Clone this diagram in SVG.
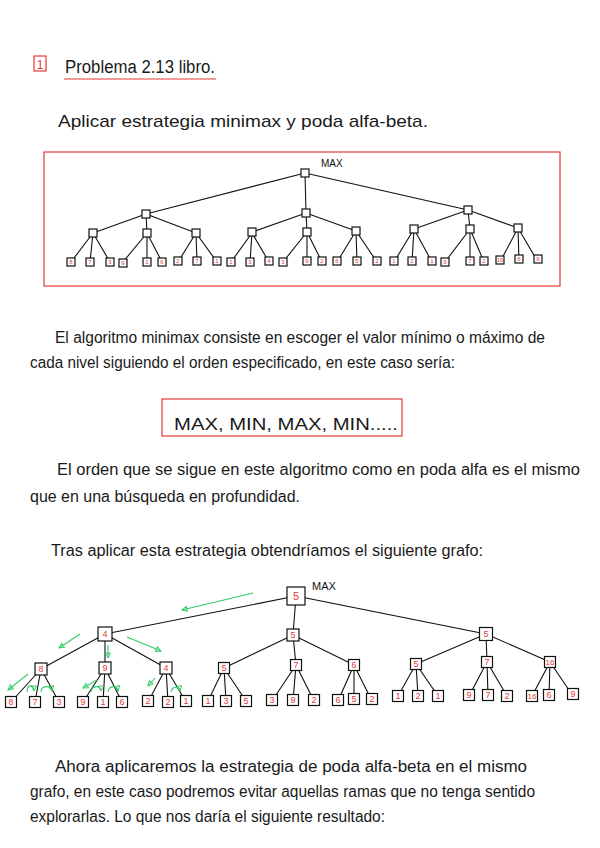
<svg xmlns="http://www.w3.org/2000/svg" width="600" height="848" viewBox="0 0 600 848">
<defs>
<style>
.t{font-family:"Liberation Sans","DejaVu Sans",sans-serif;font-size:16px;fill:#1a1a1a;}
.m{font-family:"Liberation Sans","DejaVu Sans",sans-serif;font-size:12px;fill:#111;}
.e{stroke:#111;stroke-width:1.1;fill:none;}
.n{fill:#fff;stroke:#111;stroke-width:1.2;}
.r{fill:none;stroke:#e53935;stroke-width:1.2;}
.d{font-family:"Liberation Sans","DejaVu Sans",sans-serif;fill:#e53935;text-anchor:middle;}
.s{font-size:6px;}
.b{font-size:9px;}
.g{stroke:#33cc66;stroke-width:1.1;fill:none;}
</style>
<marker id="ga" viewBox="0 0 8 8" refX="7" refY="4" markerWidth="6" markerHeight="6" orient="auto">
<path d="M1,1 L7,4 L1,7 Z" fill="none" stroke="#33cc66" stroke-width="1.2"/>
</marker>
</defs>

<!-- header -->
<g id="title">
<rect x="34" y="56" width="12" height="15" class="r"/>
<text x="40" y="69" class="d" style="font-size:12px">1</text>
<text x="65" y="73" class="t" style="font-size:18px" textLength="150" lengthAdjust="spacingAndGlyphs">Problema 2.13 libro.</text>
<line x1="64" y1="79" x2="216" y2="79" stroke="#e53935" stroke-width="1.2"/>
</g>
<text x="58" y="127" class="t" style="font-size:17px" textLength="370" lengthAdjust="spacingAndGlyphs">Aplicar estrategia minimax y poda alfa-beta.</text>

<!-- top tree -->
<rect x="44" y="152" width="516" height="134" class="r"/>
<text x="321" y="167" class="m" style="font-size:10px">MAX</text>
<g id="top-edges">
<path class="e" d="M305,173 L146,214 M305,173 L306,213 M305,173 L468,210
M146,214 L93,233 M146,214 L147,233 M146,214 L196,233
M306,213 L252,232 M306,213 L307,232 M306,213 L356,231
M468,210 L414,229 M468,210 L470,229 M468,210 L518,228
M93,233 L71,262 M93,233 L90,262 M93,233 L110,262
M147,233 L123,262 M147,233 L147,262 M147,233 L162,262
M196,233 L178,262 M196,233 L197,262 M196,233 L217,262
M252,233 L231,262 M252,233 L250,262 M252,233 L269,262
M307,232 L283,262 M307,232 L307,262 M307,232 L322,262
M356,231 L337,262 M356,231 L357,262 M356,231 L377,262
M414,229 L394,262 M414,229 L412,262 M414,229 L432,262
M470,229 L445,262 M470,229 L470,262 M470,229 L484,262
M518,228 L500,262 M518,228 L519,262 M518,228 L538,262"/>
</g>
<g id="top-nodes">
<rect class="n" x="301" y="169" width="8" height="8"/>
<rect class="n" x="142" y="210" width="8" height="8"/>
<rect class="n" x="302" y="209" width="8" height="8"/>
<rect class="n" x="464" y="206" width="8" height="8"/>
<rect class="n" x="89" y="229" width="8" height="8"/>
<rect class="n" x="143" y="229" width="8" height="8"/>
<rect class="n" x="192" y="229" width="8" height="8"/>
<rect class="n" x="248" y="228" width="8" height="8"/>
<rect class="n" x="303" y="228" width="8" height="8"/>
<rect class="n" x="352" y="227" width="8" height="8"/>
<rect class="n" x="410" y="225" width="8" height="8"/>
<rect class="n" x="466" y="225" width="8" height="8"/>
<rect class="n" x="514" y="224" width="8" height="8"/>
</g>
<g id="top-leaves">
<g transform="translate(71,262)"><rect class="n" x="-4" y="-4" width="8" height="8"/><text class="d s" y="2">8</text></g>
<g transform="translate(90,262)"><rect class="n" x="-4" y="-4" width="8" height="8"/><text class="d s" y="2">7</text></g>
<g transform="translate(110,262)"><rect class="n" x="-4" y="-4" width="8" height="8"/><text class="d s" y="2">3</text></g>
<g transform="translate(123,263)"><rect class="n" x="-4" y="-4" width="8" height="8"/><text class="d s" y="2">9</text></g>
<g transform="translate(147,262)"><rect class="n" x="-4" y="-4" width="8" height="8"/><text class="d s" y="2">1</text></g>
<g transform="translate(162,262)"><rect class="n" x="-4" y="-4" width="8" height="8"/><text class="d s" y="2">6</text></g>
<g transform="translate(178,261)"><rect class="n" x="-4" y="-4" width="8" height="8"/><text class="d s" y="2">2</text></g>
<g transform="translate(197,261)"><rect class="n" x="-4" y="-4" width="8" height="8"/><text class="d s" y="2">7</text></g>
<g transform="translate(217,261)"><rect class="n" x="-4" y="-4" width="8" height="8"/><text class="d s" y="2">1</text></g>
<g transform="translate(231,262)"><rect class="n" x="-4" y="-4" width="8" height="8"/><text class="d s" y="2">1</text></g>
<g transform="translate(250,262)"><rect class="n" x="-4" y="-4" width="8" height="8"/><text class="d s" y="2">3</text></g>
<g transform="translate(269,261)"><rect class="n" x="-4" y="-4" width="8" height="8"/><text class="d s" y="2">4</text></g>
<g transform="translate(283,262)"><rect class="n" x="-4" y="-4" width="8" height="8"/><text class="d s" y="2">3</text></g>
<g transform="translate(307,261)"><rect class="n" x="-4" y="-4" width="8" height="8"/><text class="d s" y="2">9</text></g>
<g transform="translate(322,261)"><rect class="n" x="-4" y="-4" width="8" height="8"/><text class="d s" y="2">2</text></g>
<g transform="translate(337,261)"><rect class="n" x="-4" y="-4" width="8" height="8"/><text class="d s" y="2">6</text></g>
<g transform="translate(357,261)"><rect class="n" x="-4" y="-4" width="8" height="8"/><text class="d s" y="2">5</text></g>
<g transform="translate(377,261)"><rect class="n" x="-4" y="-4" width="8" height="8"/><text class="d s" y="2">2</text></g>
<g transform="translate(394,261)"><rect class="n" x="-4" y="-4" width="8" height="8"/><text class="d s" y="2">1</text></g>
<g transform="translate(412,261)"><rect class="n" x="-4" y="-4" width="8" height="8"/><text class="d s" y="2">2</text></g>
<g transform="translate(432,261)"><rect class="n" x="-4" y="-4" width="8" height="8"/><text class="d s" y="2">1</text></g>
<g transform="translate(445,262)"><rect class="n" x="-4" y="-4" width="8" height="8"/><text class="d s" y="2">9</text></g>
<g transform="translate(470,261)"><rect class="n" x="-4" y="-4" width="8" height="8"/><text class="d s" y="2">7</text></g>
<g transform="translate(484,261)"><rect class="n" x="-4" y="-4" width="8" height="8"/><text class="d s" y="2">2</text></g>
<g transform="translate(500,260)"><rect class="n" x="-4" y="-4" width="8" height="8"/><text class="d s" y="2">16</text></g>
<g transform="translate(519,259)"><rect class="n" x="-4" y="-4" width="8" height="8"/><text class="d s" y="2">6</text></g>
<g transform="translate(538,259)"><rect class="n" x="-4" y="-4" width="8" height="8"/><text class="d s" y="2">9</text></g>
</g>

<!-- paragraph 1 -->
<text x="55" y="343" class="t" textLength="490" lengthAdjust="spacingAndGlyphs">El algoritmo minimax consiste en escoger el valor mínimo o máximo de</text>
<text x="30" y="368" class="t" textLength="425" lengthAdjust="spacingAndGlyphs">cada nivel siguiendo el orden especificado, en este caso sería:</text>
<rect x="162" y="399" width="240" height="37" class="r"/>
<text x="174" y="430" class="t" style="font-size:17px" textLength="224" lengthAdjust="spacingAndGlyphs">MAX, MIN, MAX, MIN.....</text>

<!-- paragraph 2 -->
<text x="57" y="475" class="t" textLength="523" lengthAdjust="spacingAndGlyphs">El orden que se sigue en este algoritmo como en poda alfa es el mismo</text>
<text x="30" y="502" class="t" textLength="270" lengthAdjust="spacingAndGlyphs">que en una búsqueda en profundidad.</text>
<text x="51" y="556" class="t" textLength="432" lengthAdjust="spacingAndGlyphs">Tras aplicar esta estrategia obtendríamos el siguiente grafo:</text>

<!-- bottom tree -->
<text x="312" y="590" class="m" style="font-size:11px">MAX</text>
<g id="bottom-edges">
<path class="e" d="M296,596 L105,634 M296,596 L293,635 M296,596 L486,634
M105,634 L41,669 M105,634 L105,668 M105,634 L166,668
M293,635 L224,668 M293,635 L296,665 M293,635 L354,665
M486,634 L416,664 M486,634 L487,662 M486,634 L550,662
M41,669 L11,702 M41,669 L35,702 M41,669 L59,702
M105,668 L83,702 M105,668 L103,702 M105,668 L122,702
M166,668 L148,702 M166,668 L168,702 M166,668 L186,702
M224,668 L208,701 M224,668 L226,701 M224,668 L246,701
M296,665 L272,701 M296,665 L293,701 M296,665 L314,701
M354,665 L338,701 M354,665 L354,701 M354,665 L372,701
M416,664 L398,696 M416,664 L418,696 M416,664 L438,696
M487,662 L469,696 M487,662 L488,696 M487,662 L507,696
M550,662 L532,696 M550,662 L549,696 M550,662 L573,696"/>
</g>
<g id="bottom-nodes">
<g transform="translate(296,596)"><rect class="n" x="-9" y="-9" width="18" height="18"/><text class="d" y="4" style="font-size:11px">5</text></g>
<g transform="translate(105,634)"><rect class="n" x="-7" y="-7" width="14" height="14"/><text class="d b" y="3">4</text></g>
<g transform="translate(293,635)"><rect class="n" x="-6" y="-6" width="12" height="12"/><text class="d b" y="3">5</text></g>
<g transform="translate(486,634)"><rect class="n" x="-6.5" y="-6.5" width="13" height="13"/><text class="d b" y="3">5</text></g>
<g transform="translate(41,669)"><rect class="n" x="-6" y="-6" width="12" height="12"/><text class="d b" y="3">8</text></g>
<g transform="translate(105,668)"><rect class="n" x="-6" y="-6" width="12" height="12"/><text class="d b" y="3">9</text></g>
<g transform="translate(166,668)"><rect class="n" x="-6" y="-6" width="12" height="12"/><text class="d b" y="3">4</text></g>
<g transform="translate(224,668)"><rect class="n" x="-5.5" y="-5.5" width="11" height="11"/><text class="d b" y="3">5</text></g>
<g transform="translate(296,665)"><rect class="n" x="-5.5" y="-5.5" width="11" height="11"/><text class="d b" y="3">7</text></g>
<g transform="translate(354,665)"><rect class="n" x="-5.5" y="-5.5" width="11" height="11"/><text class="d b" y="3">6</text></g>
<g transform="translate(416,664)"><rect class="n" x="-5.5" y="-5.5" width="11" height="11"/><text class="d b" y="3">5</text></g>
<g transform="translate(487,662)"><rect class="n" x="-5.5" y="-5.5" width="11" height="11"/><text class="d b" y="3">7</text></g>
<g transform="translate(550,662)"><rect class="n" x="-5.5" y="-5.5" width="11" height="11"/><text class="d b" y="3" style="font-size:8px">16</text></g>
</g>
<g id="bottom-leaves">
<g transform="translate(11,702)"><rect class="n" x="-5.5" y="-5.5" width="11" height="11"/><text class="d b" y="3">8</text></g>
<g transform="translate(35,702)"><rect class="n" x="-5.5" y="-5.5" width="11" height="11"/><text class="d b" y="3">7</text></g>
<g transform="translate(59,702)"><rect class="n" x="-5.5" y="-5.5" width="11" height="11"/><text class="d b" y="3">3</text></g>
<g transform="translate(83,702)"><rect class="n" x="-5.5" y="-5.5" width="11" height="11"/><text class="d b" y="3">9</text></g>
<g transform="translate(103,702)"><rect class="n" x="-5.5" y="-5.5" width="11" height="11"/><text class="d b" y="3">1</text></g>
<g transform="translate(122,702)"><rect class="n" x="-5.5" y="-5.5" width="11" height="11"/><text class="d b" y="3">6</text></g>
<g transform="translate(148,701)"><rect class="n" x="-5.5" y="-5.5" width="11" height="11"/><text class="d b" y="3">2</text></g>
<g transform="translate(168,702)"><rect class="n" x="-5.5" y="-5.5" width="11" height="11"/><text class="d b" y="3">2</text></g>
<g transform="translate(186,701)"><rect class="n" x="-5.5" y="-5.5" width="11" height="11"/><text class="d b" y="3">1</text></g>
<g transform="translate(208,701)"><rect class="n" x="-5.5" y="-5.5" width="11" height="11"/><text class="d b" y="3">1</text></g>
<g transform="translate(226,701)"><rect class="n" x="-5.5" y="-5.5" width="11" height="11"/><text class="d b" y="3">3</text></g>
<g transform="translate(246,701)"><rect class="n" x="-5.5" y="-5.5" width="11" height="11"/><text class="d b" y="3">5</text></g>
<g transform="translate(272,700)"><rect class="n" x="-5.5" y="-5.5" width="11" height="11"/><text class="d b" y="3">3</text></g>
<g transform="translate(293,700)"><rect class="n" x="-5.5" y="-5.5" width="11" height="11"/><text class="d b" y="3">9</text></g>
<g transform="translate(314,700)"><rect class="n" x="-5.5" y="-5.5" width="11" height="11"/><text class="d b" y="3">2</text></g>
<g transform="translate(338,700)"><rect class="n" x="-5.5" y="-5.5" width="11" height="11"/><text class="d b" y="3">6</text></g>
<g transform="translate(354,699)"><rect class="n" x="-5.5" y="-5.5" width="11" height="11"/><text class="d b" y="3">5</text></g>
<g transform="translate(372,699)"><rect class="n" x="-5.5" y="-5.5" width="11" height="11"/><text class="d b" y="3">2</text></g>
<g transform="translate(398,696)"><rect class="n" x="-5.5" y="-5.5" width="11" height="11"/><text class="d b" y="3">1</text></g>
<g transform="translate(418,696)"><rect class="n" x="-5.5" y="-5.5" width="11" height="11"/><text class="d b" y="3">2</text></g>
<g transform="translate(438,696)"><rect class="n" x="-5.5" y="-5.5" width="11" height="11"/><text class="d b" y="3">1</text></g>
<g transform="translate(469,695)"><rect class="n" x="-5.5" y="-5.5" width="11" height="11"/><text class="d b" y="3">9</text></g>
<g transform="translate(488,695)"><rect class="n" x="-5.5" y="-5.5" width="11" height="11"/><text class="d b" y="3">7</text></g>
<g transform="translate(507,696)"><rect class="n" x="-5.5" y="-5.5" width="11" height="11"/><text class="d b" y="3">2</text></g>
<g transform="translate(532,696)"><rect class="n" x="-5.5" y="-5.5" width="11" height="11"/><text class="d b" y="3" style="font-size:8px">16</text></g>
<g transform="translate(549,695)"><rect class="n" x="-5.5" y="-5.5" width="11" height="11"/><text class="d b" y="3">6</text></g>
<g transform="translate(573,694)"><rect class="n" x="-5.5" y="-5.5" width="11" height="11"/><text class="d b" y="3">9</text></g>
</g>
<g id="green-arrows">
<path class="g" marker-end="url(#ga)" d="M253,593 L182,610"/>
<path class="g" marker-end="url(#ga)" d="M80,634 L59,648"/>
<path class="g" marker-end="url(#ga)" d="M108,645 L108,658"/>
<path class="g" marker-end="url(#ga)" d="M127,637 L161,651"/>
<path class="g" marker-end="url(#ga)" d="M28,674 L8,690"/>
<path class="g" marker-end="url(#ga)" d="M97,680 L83,688"/>
<path class="g" marker-end="url(#ga)" d="M155,678 L148,686"/>
<path class="g" marker-end="url(#ga)" d="M27,692 C27,684 34,684 34,691"/>
<path class="g" marker-end="url(#ga)" d="M41,692 C41,685 51,685 52,691"/>
<path class="g" marker-end="url(#ga)" d="M91,692 C92,685 101,685 101,691"/>
<path class="g" marker-end="url(#ga)" d="M108,692 C109,685 117,685 118,691"/>
<path class="g" marker-end="url(#ga)" d="M171,692 C172,686 179,686 180,691"/>
</g>

<!-- paragraph 3 -->
<text x="55" y="772" class="t" textLength="472" lengthAdjust="spacingAndGlyphs">Ahora aplicaremos la estrategia de poda alfa-beta en el mismo</text>
<text x="30" y="797" class="t" textLength="505" lengthAdjust="spacingAndGlyphs">grafo, en este caso podremos evitar aquellas ramas que no tenga sentido</text>
<text x="30" y="822" class="t" textLength="355" lengthAdjust="spacingAndGlyphs">explorarlas. Lo que nos daría el siguiente resultado:</text>
</svg>
